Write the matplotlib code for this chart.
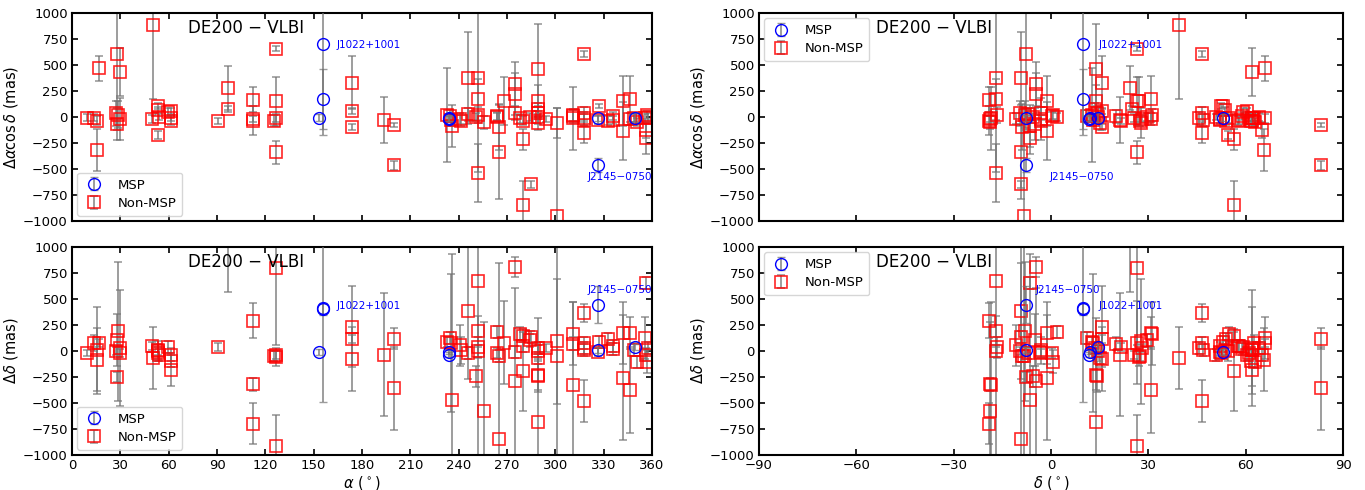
import numpy as np
import matplotlib
matplotlib.use("Agg")
import matplotlib.pyplot as plt

# MSPs: J1012+5307, J1022+1001 (x2), J1537+1155 (x2), J2145-0750 (x2), J2317+1439
msp_ra = [153.1, 155.7, 155.7, 234.3, 234.3, 326.5, 326.5, 349.3]
msp_dec = [53.1, 10.0, 10.0, 11.9, 11.6, -7.8, -7.6, 14.6]
msp_dra = [-5, 700, 170, -8, -15, -460, -10, -5]
msp_dra_err = [30, 870, 290, 30, 20, 70, 30, 40]
msp_ddec = [-12, 414, 405, -11, -34, 446, 10, 37]
msp_ddec_err = [30, 900, 60, 20, 20, 176, 30, 30]

# non-MSP pulsars
psr_ra = [9.5, 13.9, 15.7, 15.7, 17.0, 27.7, 29.5, 27.4, 28.4, 27.9, 29.8,
          50.5, 49.5, 53.6, 53.6, 54.2, 53.3, 59.4, 61.4, 61.4, 61.4,
          90.4, 97.1, 97.1, 112.2, 112.2, 112.2, 126.7, 126.7, 126.7, 125.6, 126.7,
          173.8, 173.8, 173.8, 193.9, 200.1, 200.1,
          233.0, 235.7, 234.5, 235.5, 241.0, 241.5, 245.6, 245.6, 250.8,
          252.2, 252.2, 252.2, 252.2, 255.7, 263.6, 263.6, 265.2, 265.2, 268.1,
          275.0, 275.0, 275.0, 279.7, 279.7, 278.0, 280.0, 284.9, 284.3,
          289.0, 289.0, 289.0, 289.0, 289.0, 289.0, 294.2, 301.2, 301.2,
          311.2, 311.2, 311.2, 317.8, 317.8, 317.8, 317.8, 317.8,
          327.3, 326.7, 332.9, 335.6, 335.6, 341.8, 341.8, 346.4, 346.4,
          348.8, 350.5, 356.3, 355.7, 357.7, 356.3, 357.0]
psr_dec = [61.0, 62.5, 62.0, 65.5, 66.0, -7.6, 62.1, -9.5, -8.0, -5.0, -3.0,
           39.6, 52.0, 52.5, 53.5, 51.0, 54.5, 59.3, 60.5, 61.5, 62.0,
           21.7, 24.2, 25.0, -19.0, -18.8, -19.2, 26.4, 27.0, 25.5, 27.5, 26.4,
           15.8, 15.8, 15.8, 21.3, 83.3, 83.3,
           12.5, -6.4, 11.0, 13.0, -10.8, -3.0, -9.3, -7.0, -5.5,
           -17.0, -17.0, -16.5, -17.0, -18.8, 1.8, 0.2, -9.0, -9.3, 26.4,
           -4.6, -4.6, -3.0, 56.5, 56.5, 55.0, 57.5, -9.4, 29.6,
           13.9, 13.9, 14.2, 13.5, 14.5, 15.0, 28.0, 27.8, -8.4,
           -18.5, 31.0, 20.0, 46.5, 46.5, 45.5, 46.5, 47.0,
           53.0, 52.0, 54.0, 58.0, 59.0, -1.3, -1.2, 30.8, 30.8,
           62.0, 63.0, -6.4, 66.0, 64.0, 65.0, 0.5]
psr_dra = [-5, -5, -35, -318, 469, 605, 431, 35, 20, -67, -20,
           887, -20, 106, 67, -3, -170, 45, 61, -35, -10,
           -35, 280, 74, 164, -22, -35, 656, 151, -12, -35, -340,
           331, 58, -93, -29, -80, -466,
           19, -87, 10, -30, -15, -35, 373, 26, 3,
           373, 170, 20, -537, -51, 3, 10, -93, -334, 151,
           315, 219, 35, -215, -849, -13, -35, -646, -3,
           463, 154, 42, 74, -3, -61, -16, -61, -955,
           -13, 19, 5, 605, 35, -13, -151, -30,
           106, -29, -35, -29, 10, 154, -135, 174, -20,
           -10, -45, -205, -13, -3, -125, 20]
psr_dra_err = [30, 30, 40, 205, 120, 730, 230, 120, 130, 150, 200,
               710, 40, 30, 30, 30, 40, 40, 30, 40, 30,
               30, 210, 30, 120, 30, 140, 25, 235, 40, 50, 110,
               255, 30, 30, 220, 20, 40,
               450, 200, 60, 60, 50, 50, 440, 60, 40,
               900, 200, 80, 280, 60, 40, 40, 220, 450, 230,
               210, 200, 60, 100, 230, 40, 40, 35, 40,
               430, 150, 60, 60, 60, 60, 30, 145, 1045,
               300, 60, 60, 25, 60, 60, 100, 60,
               20, 40, 40, 40, 40, 240, 280, 220, 60,
               40, 40, 150, 40, 40, 80, 40]
psr_ddec = [-18, 78, 5, -82, 78, -248, 30, -1, 190, 101, -17,
            -66, 46, -18, 14, -40, 0, 37, -34, -98, -178,
            37, 1100, 1300, 293, -322, -699, 798, -59, -40, -50, -917,
            232, 117, -75, -34, 120, -357,
            85, -472, 126, 78, 53, 8, 380, -20, -242,
            670, 190, 37, 0, -578, 181, -18, -50, -850, 78,
            808, -290, -8, -194, 149, 168, 46, 133, 101,
            -683, -226, -242, 30, -2, -66, 30, 94, -50,
            -328, 168, 72, 366, 75, 30, -482, 10,
            85, -8, 117, 46, 21, 174, -258, 174, -376,
            14, -104, 654, 126, 30, -34, -104]
psr_ddec_err = [30, 80, 420, 300, 40, 50, 560, 40, 670, 250, 40,
                300, 40, 60, 50, 60, 100, 60, 60, 60, 160,
                40, 530, 200, 170, 65, 200, 740, 90, 40, 50, 300,
                390, 40, 310, 590, 100, 400,
                50, 1400, 60, 660, 200, 130, 650, 60, 100,
                1700, 150, 100, 60, 860, 60, 50, 60, 1700, 400,
                100, 900, 60, 380, 60, 60, 60, 60, 60,
                1000, 150, 150, 60, 60, 60, 40, 600, 1200,
                800, 300, 60, 90, 60, 60, 200, 60,
                60, 40, 60, 60, 60, 300, 600, 150, 410,
                60, 60, 60, 200, 60, 60, 110]

# name labels: x in alpha, x in delta (top / bottom rows), y in top / bottom rows
label_names = ["J1022+1001", "J2145\u22120750"]
label_ra = [164.5, 319.7]
label_dec_top = [14.8, -0.3]
label_dec_bot = [14.8, -4.9]
label_y_top = [692, -577]
label_y_bot = [433, 587]

fig = plt.figure(figsize=(13.65, 4.9), dpi=100)
W, H = 1365.0, 490.0
axes = {
    "ra_top": fig.add_axes([72 / W, 1 - 221 / H, 580 / W, 208 / H]),
    "ra_bot": fig.add_axes([72 / W, 1 - 455 / H, 580 / W, 208 / H]),
    "dec_top": fig.add_axes([759 / W, 1 - 221 / H, 584 / W, 208 / H]),
    "dec_bot": fig.add_axes([759 / W, 1 - 455 / H, 584 / W, 208 / H]),
}

ecol = (0.45, 0.45, 0.45, 0.7)
common = dict(ls="none", ecolor=ecol, elinewidth=1.4, capsize=3, capthick=1.4)
leg_kw = dict(fontsize=9.5, borderpad=0.45, handletextpad=1.0, labelspacing=0.4,
              handlelength=1.6, borderaxespad=0.4)


def draw(ax, x_msp, y_msp, ye_msp, x_psr, y_psr, ye_psr):
    ax.errorbar(x_psr, y_psr, yerr=ye_psr, marker="s", ms=9, mfc="none",
                mec=(1, 0, 0, 0.85), mew=1.2, label="Non-MSP", zorder=2, **common)
    ax.errorbar(x_msp, y_msp, yerr=ye_msp, marker="o", ms=8.5, mfc="none",
                mec="blue", mew=1.0, label="MSP", zorder=3, **common)
    ax.set_ylim(-1000, 1000)
    ax.set_yticks(np.arange(-1000, 1001, 250))
    ax.tick_params(direction="in", top=True, right=True, labelsize=9.5, width=1.2,
                   length=4, pad=3)
    for s in ax.spines.values():
        s.set_linewidth(1.5)
    ax.text(0.2, 0.93, "DE200 \u2212 VLBI", transform=ax.transAxes, fontsize=12, va="center")
    h, l = ax.get_legend_handles_labels()
    return h[::-1], l[::-1]


# RA panels
for key, yv, ye, myv, mye, ly in [("ra_top", psr_dra, psr_dra_err, msp_dra, msp_dra_err, label_y_top),
                                  ("ra_bot", psr_ddec, psr_ddec_err, msp_ddec, msp_ddec_err, label_y_bot)]:
    ax = axes[key]
    h, l = draw(ax, msp_ra, myv, mye, psr_ra, yv, ye)
    ax.set_xlim(0, 360)
    ax.set_xticks(np.arange(0, 361, 30))
    ax.legend(h, l, loc="lower left", **leg_kw)
    for name, x, y in zip(label_names, label_ra, ly):
        ax.text(x, y, name, color="blue", fontsize=7.5, va="center")

# Dec panels
for key, yv, ye, myv, mye, lx, ly in [("dec_top", psr_dra, psr_dra_err, msp_dra, msp_dra_err,
                                       label_dec_top, label_y_top),
                                      ("dec_bot", psr_ddec, psr_ddec_err, msp_ddec, msp_ddec_err,
                                       label_dec_bot, label_y_bot)]:
    ax = axes[key]
    h, l = draw(ax, msp_dec, myv, mye, psr_dec, yv, ye)
    ax.set_xlim(-90, 90)
    ax.set_xticks(np.arange(-90, 91, 30))
    ax.legend(h, l, loc="upper left", **leg_kw)
    for name, x, y in zip(label_names, lx, ly):
        ax.text(x, y, name, color="blue", fontsize=7.5, va="center")

axes["ra_top"].tick_params(labelbottom=False)
axes["dec_top"].tick_params(labelbottom=False)
for key in ["ra_top", "dec_top"]:
    axes[key].set_ylabel(r"$\Delta\alpha\cos\delta$ (mas)", fontsize=10.5, labelpad=2)
for key in ["ra_bot", "dec_bot"]:
    axes[key].set_ylabel(r"$\Delta\delta$ (mas)", fontsize=10.5, labelpad=2)
axes["ra_bot"].set_xlabel(r"$\alpha$ ($^\circ$)", fontsize=10.5, labelpad=1)
axes["dec_bot"].set_xlabel(r"$\delta$ ($^\circ$)", fontsize=10.5, labelpad=1)

fig.savefig("out.png", dpi=100)
